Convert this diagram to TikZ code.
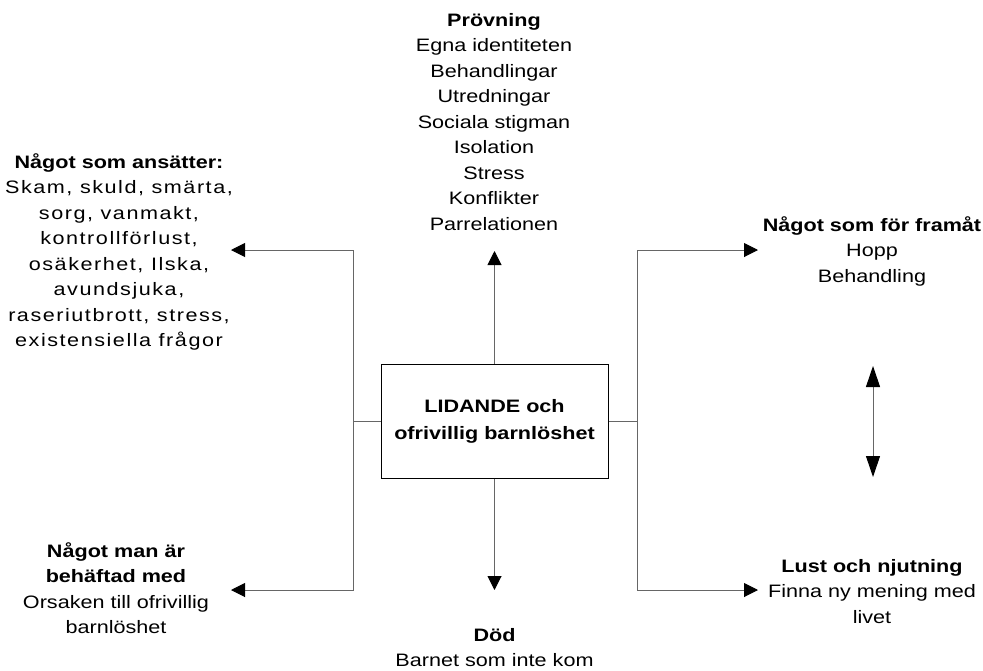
\documentclass[tikz,border=0pt]{standalone}
\usepackage{fontspec}
\setmainfont{Liberation Sans}[FakeStretch=1.2]
\newfontfamily\spacedfont{Liberation Sans}[FakeStretch=1.2, LetterSpace=8.5]
\usetikzlibrary{arrows.meta}

\tikzset{
  txt/.style={inner sep=0pt, align=center, anchor=base,
    font=\fontsize{18}{25.5}\selectfont},
  hub/.style={draw=black, line width=1pt, inner sep=0pt,
    minimum width=227pt, minimum height=114pt, align=center,
    font=\fontsize{18}{27}\selectfont\bfseries},
  conn/.style={draw=black!60, line width=1pt},
  arr/.style={conn, -{Triangle[length=14pt,width=14pt,color=black]}},
  dblarr/.style={conn, {Triangle[length=21pt,width=14pt,color=black]}-{Triangle[length=21pt,width=14pt,color=black]}}
}

\begin{document}
\begin{tikzpicture}[x=1pt, y=-1pt]
\useasboundingbox (0,0) rectangle (983,670);

% central box
\node[hub] (core) at (494.5,421) {LIDANDE och\\ofrivillig barnlöshet};

% text blocks (each placed by the baseline of its last line)
\node[txt] (top) at (494,230) {\textbf{Prövning}\\Egna identiteten\\Behandlingar\\Utredningar\\Sociala stigman\\Isolation\\Stress\\Konflikter\\Parrelationen};
\node[txt] (lefttop) at (119,346.5) {\textbf{Något som ansätter:}\\{\spacedfont Skam, skuld, smärta,}\\{\spacedfont sorg, vanmakt,}\\{\spacedfont kontrollförlust,}\\{\spacedfont osäkerhet, Ilska,}\\{\spacedfont avundsjuka,}\\{\spacedfont raseriutbrott, stress,}\\{\spacedfont existensiella frågor}};
\node[txt] (leftbot) at (116,633.5) {\textbf{Något man är}\\\textbf{behäftad med}\\Orsaken till ofrivillig\\barnlöshet};
\node[txt] (righttop) at (872,282) {\textbf{Något som för framåt}\\Hopp\\Behandling};
\node[txt] (rightbot) at (872,623) {\textbf{Lust och njutning}\\Finna ny mening med\\livet};
\node[txt] (bottom) at (494.5,666.5) {\textbf{Död}\\Barnet som inte kom};

% junctions and arrow tips
\coordinate (lj) at (353,421);
\coordinate (rj) at (637,421);
\coordinate (lt) at (231,250);
\coordinate (lb) at (231,590);
\coordinate (rt) at (758,250);
\coordinate (rb) at (758,590);
\coordinate (tt) at (494.5,251);
\coordinate (bt) at (494.5,590);
\coordinate (du) at (873,366);
\coordinate (dd) at (873,477);

% connectors
\draw[conn] (core.west) -- (lj);
\draw[arr] (lj) |- (lt);
\draw[arr] (lj) |- (lb);
\draw[conn] (core.east) -- (rj);
\draw[arr] (rj) |- (rt);
\draw[arr] (rj) |- (rb);
\draw[arr] (core.north) -- (tt);
\draw[arr] (core.south) -- (bt);
\draw[dblarr] (du) -- (dd);
\end{tikzpicture}
\end{document}
